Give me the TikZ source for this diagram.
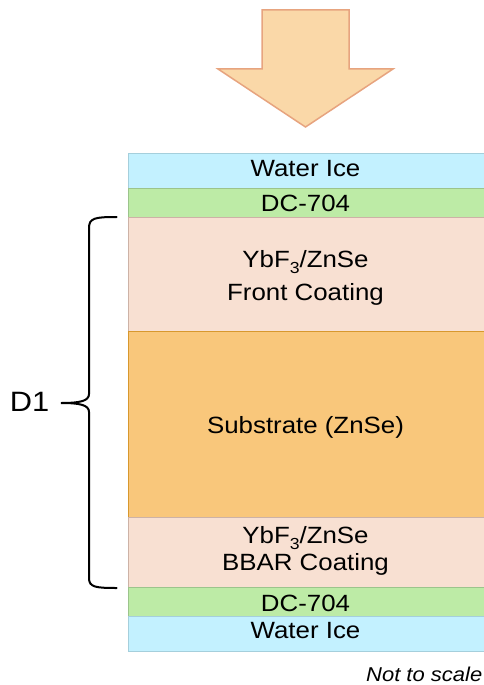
\documentclass[tikz,border=0pt]{standalone}
\usepackage{fontspec}
\setmainfont[FakeStretch=1.1]{Liberation Sans}
\definecolor{iceF}{HTML}{C3F1FF}
\definecolor{iceD}{HTML}{A5CFDC}
\definecolor{dcF}{HTML}{BDEBA6}
\definecolor{dcD}{HTML}{9CC48C}
\definecolor{coatF}{HTML}{F8E0D2}
\definecolor{coatD}{HTML}{CDB2A6}
\definecolor{subF}{HTML}{F9C77B}
\definecolor{subD}{HTML}{D8982E}
\definecolor{arrF}{HTML}{FAD8A8}
\definecolor{arrD}{HTML}{E7A47F}
\newcommand{\subthree}{\raisebox{-6pt}{\fontsize{16}{16}\selectfont 3}}
\tikzset{
  layer/.style={draw, line width=1pt, anchor=north west, minimum width=356pt, inner sep=0pt},
  icelayer/.style={layer, fill=iceF, draw=iceD},
  dclayer/.style={layer, fill=dcF, draw=dcD},
  coatlayer/.style={layer, fill=coatF, draw=coatD},
  sublayer/.style={layer, fill=subF, draw=subD},
  lbl/.style={anchor=base, inner sep=0pt, font=\fontsize{23.5}{28}\selectfont, text=black},
  bracestyle/.style={line width=2pt, black, line cap=round},
}
\begin{document}
\begin{tikzpicture}[x=1pt, y=-1pt]
\useasboundingbox (0,0) rectangle (484,685);
% incoming arrow
\draw[fill=arrF, draw=arrD, line width=1.5pt, line join=miter]
  (262,10) -- (349,10) -- (349,69) -- (393,69) -- (305.5,127) -- (218,69) -- (262,69) -- cycle;
% layers
\node[icelayer, minimum height=35.2pt] (ice1) at (127.5,152.5) {};
\node[dclayer, minimum height=29pt] (dc1) at (127.5,187.7) {};
\node[coatlayer, minimum height=114pt] (front) at (127.5,216.7) {};
\node[sublayer, minimum height=186pt] (sub) at (127.5,330.7) {};
\node[coatlayer, minimum height=70.3pt] (bbar) at (127.5,516.7) {};
\node[dclayer, minimum height=29pt] (dc2) at (127.5,587) {};
\node[icelayer, minimum height=34.7pt] (ice2) at (127.5,616) {};
% labels
\node[lbl] (tice1) at (305.5,176) {Water Ice};
\node[lbl] (tdc1) at (305.5,211.7) {DC-704};
\node[lbl] (tfront1) at (305.5,267.3) {YbF\subthree/ZnSe};
\node[lbl] (tfront2) at (305.5,300) {Front Coating};
\node[lbl] (tsub) at (305.5,433) {Substrate (ZnSe)};
\node[lbl] (tbbar1) at (305.5,543) {YbF\subthree/ZnSe};
\node[lbl] (tbbar2) at (305.5,570) {BBAR Coating};
\node[lbl] (tdc2) at (305.5,611.7) {DC-704};
\node[lbl] (tice2) at (305.5,638.3) {Water Ice};
% brace
\coordinate (btop) at (116.7,217);
\coordinate (bbot) at (116.7,588);
\coordinate (btip) at (61,403);
\draw[bracestyle] (btop) .. controls (95,217) and (89,218) .. (89,228) -- (89,394)
  .. controls (89,401) and (80,403) .. (btip)
  .. controls (80,403) and (89,405) .. (89,412) -- (89,578)
  .. controls (89,587) and (95,588) .. (bbot);
\node[font=\fontsize{28}{30}\selectfont, inner sep=0pt, anchor=base] (d1) at (29.5,411) {D1};
\node[font=\fontsize{20}{22}\selectfont\itshape, inner sep=0pt, anchor=base east] (nts) at (482.5,681) {Not to scale};
\end{tikzpicture}
\end{document}
